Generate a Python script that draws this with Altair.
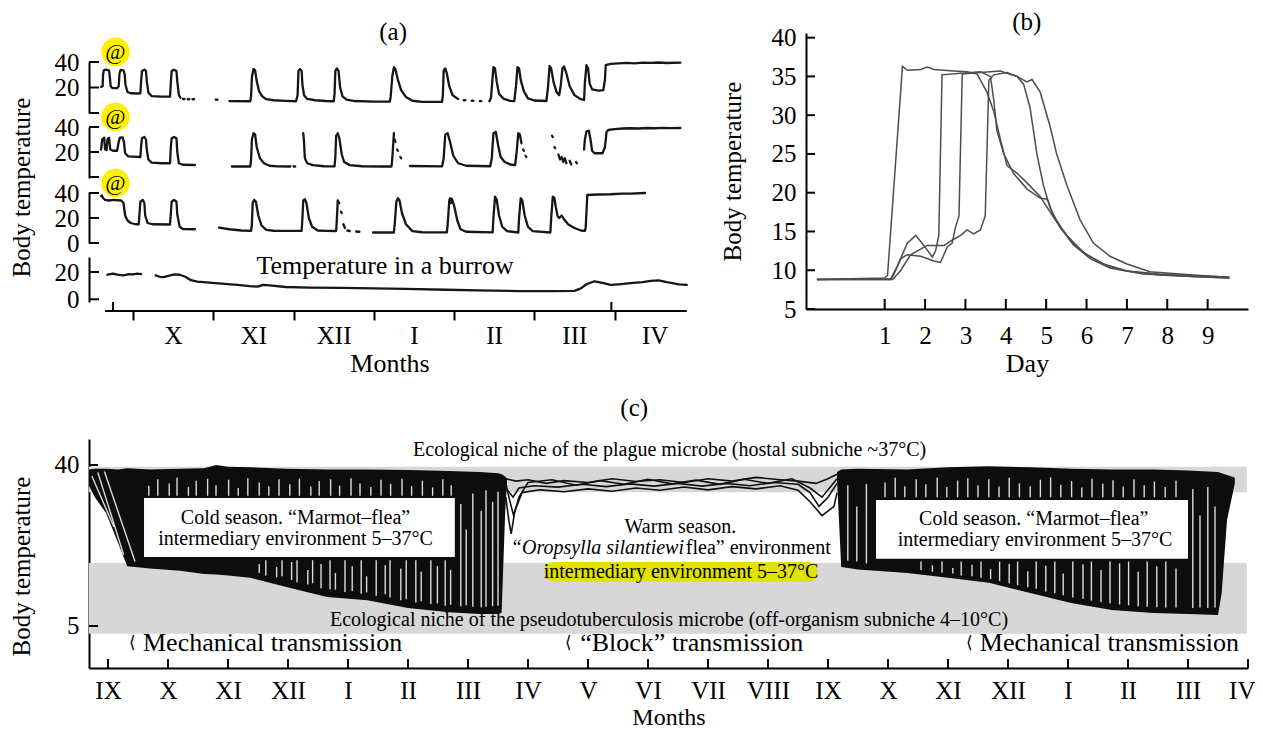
import json
import altair as alt
import pandas as pd

FONT = "Liberation Serif"
INK = "#161616"

# ===================== panel (a) data =====================
A_MONTHS = ["X", "XI", "XII", "I", "II", "III", "IV"]
A_MONTH_STARTS = [1, 2, 3, 4, 5, 6, 7]
A_SIDE_TICKS = [0.75, 6.96]
A_AXIS_SPAN = [0.651, 7.9]
A_XDOMAIN = [0.45, 7.94]

A1 = [
    [(0.60, 20.5), (0.62, 21), (0.625, 30), (0.635, 33.5), (0.66, 34), (0.70, 33.5), (0.71, 28), (0.72, 21),
     (0.74, 19.6), (0.80, 19.5), (0.82, 21), (0.83, 31), (0.845, 33.8), (0.88, 33.5), (0.895, 30), (0.905, 22),
     (0.93, 16.5), (0.97, 15.5), (1.05, 15.3), (1.09, 15.5), (1.10, 25), (1.11, 33), (1.14, 34), (1.16, 33),
     (1.17, 25), (1.19, 16), (1.23, 13.3), (1.35, 12.8), (1.46, 12.8), (1.47, 24), (1.48, 33), (1.51, 34),
     (1.54, 33), (1.55, 25), (1.57, 14), (1.59, 12)],
    [(1.62, 11), (1.64, 11)], [(1.68, 10.8), (1.70, 10.8)], [(1.74, 10.8), (1.76, 10.8)],
    [(2.03, 10.4), (2.05, 10.4)],
    [(2.20, 9.3), (2.46, 9.2), (2.47, 13), (2.48, 28), (2.50, 34.5), (2.52, 33.5), (2.54, 25), (2.57, 17),
     (2.61, 13), (2.66, 10.8), (2.75, 10), (2.90, 9.5), (3.03, 9.2), (3.05, 14), (3.06, 33), (3.08, 34.5),
     (3.10, 33), (3.11, 22), (3.13, 14), (3.17, 11), (3.27, 10), (3.40, 9.4), (3.50, 9.2), (3.51, 15),
     (3.52, 33), (3.54, 35), (3.56, 33), (3.58, 20), (3.61, 13), (3.66, 10.5), (3.76, 9.4), (4.00, 9),
     (4.20, 9), (4.21, 13), (4.23, 29), (4.25, 36), (4.27, 34), (4.30, 26), (4.34, 18), (4.40, 12.5),
     (4.48, 9.6), (4.60, 8.8), (4.85, 8.8), (4.86, 14), (4.87, 33), (4.89, 35), (4.91, 31), (4.94, 21),
     (4.98, 14), (5.05, 11)],
    [(5.12, 10), (5.14, 10)], [(5.22, 9.6), (5.24, 9.6)], [(5.32, 9.3), (5.34, 9.3)],
    [(5.44, 9.2), (5.46, 12), (5.47, 20), (5.49, 36), (5.51, 35), (5.53, 25), (5.56, 15), (5.62, 11),
     (5.70, 9.5), (5.75, 9.3), (5.77, 20), (5.79, 36), (5.81, 35), (5.83, 26), (5.87, 17), (5.92, 11.5),
     (6.00, 9.8), (6.15, 9.4), (6.17, 20), (6.19, 37), (6.21, 35), (6.24, 24), (6.28, 16), (6.31, 14),
     (6.33, 22), (6.35, 35), (6.37, 36.5), (6.40, 31), (6.44, 21), (6.50, 14), (6.58, 10.8), (6.62, 10.2),
     (6.63, 24), (6.65, 37.5), (6.67, 35), (6.69, 23), (6.72, 18.5), (6.80, 17.5), (6.86, 18), (6.88, 26),
     (6.89, 37.5), (6.95, 38.6), (7.05, 38.9), (7.15, 39.3), (7.25, 39.0), (7.35, 39.5), (7.45, 39.3),
     (7.55, 39.6), (7.65, 39.2), (7.82, 39.5)],
]

A2 = [
    [(0.60, 22), (0.615, 30), (0.64, 31.5), (0.65, 22), (0.67, 21.5), (0.68, 30), (0.70, 31.5), (0.715, 22),
     (0.75, 21), (0.80, 21), (0.82, 28), (0.835, 31.5), (0.87, 31.7), (0.885, 28), (0.90, 19), (0.94, 16.5),
     (1.00, 16.3), (1.09, 16), (1.10, 25), (1.11, 31), (1.14, 32), (1.16, 30), (1.17, 22), (1.19, 14),
     (1.23, 11.5), (1.35, 11), (1.46, 11), (1.47, 24), (1.48, 31), (1.51, 32), (1.54, 31), (1.55, 20),
     (1.57, 11), (1.62, 9.8), (1.77, 9.6)],
    [(2.23, 8.4), (2.46, 8.4), (2.47, 14), (2.48, 30), (2.50, 35), (2.52, 34), (2.54, 24), (2.58, 15),
     (2.63, 11), (2.70, 9), (2.80, 8.5), (2.96, 8.4)],
    [(3.00, 8.4), (3.02, 8.4)],
    [(3.12, 35), (3.13, 28), (3.14, 15), (3.17, 11), (3.24, 9.5), (3.38, 8.6), (3.51, 8.5), (3.52, 16),
     (3.53, 33), (3.55, 35), (3.57, 31), (3.60, 18), (3.63, 12), (3.70, 9.5), (3.85, 8.6), (4.10, 8.4),
     (4.22, 8.4), (4.23, 15), (4.25, 35)],
    [(4.26, 30), (4.27, 28)], [(4.29, 22), (4.30, 21)], [(4.33, 16), (4.34, 15)],
    [(4.45, 8.8), (4.85, 8.5), (4.87, 15), (4.89, 34), (4.92, 35), (4.95, 28), (4.99, 17), (5.05, 11),
     (5.15, 9), (5.45, 8.6), (5.47, 15), (5.49, 35), (5.52, 36), (5.55, 25), (5.58, 16), (5.63, 12),
     (5.70, 10), (5.76, 9.5), (5.78, 20), (5.80, 35), (5.82, 34), (5.84, 27)],
    [(5.86, 22), (5.87, 21)], [(5.89, 17), (5.90, 16)],
    [(6.22, 33), (6.23, 32)], [(6.25, 24), (6.26, 23)],
    [(6.30, 18), (6.32, 14), (6.34, 16), (6.36, 12), (6.38, 15), (6.40, 11)],
    [(6.44, 13), (6.46, 10)], [(6.52, 12), (6.53, 11)],
    [(6.62, 22), (6.63, 30), (6.65, 36.5), (6.68, 37), (6.70, 30), (6.72, 21), (6.75, 19), (6.85, 19),
     (6.88, 24), (6.90, 36), (6.92, 37.6), (7.00, 38.3), (7.10, 38.8), (7.20, 39), (7.30, 38.8), (7.40, 39.2),
     (7.50, 39), (7.60, 39.3), (7.70, 39.1), (7.82, 39.2)],
]

A3 = [
    [(0.60, 37.5), (0.61, 38), (0.625, 36), (0.65, 34.5), (0.70, 34), (0.75, 34.5), (0.85, 34), (0.88, 32),
     (0.90, 22), (0.93, 18), (0.97, 16), (1.03, 15), (1.07, 15), (1.08, 24), (1.09, 33), (1.12, 34.5),
     (1.14, 32), (1.15, 22), (1.18, 16), (1.24, 15), (1.46, 14.8), (1.47, 24), (1.48, 33), (1.51, 34.5),
     (1.54, 33), (1.55, 23), (1.58, 13), (1.62, 11.2), (1.77, 11)],
    [(2.07, 12.3), (2.20, 11), (2.35, 10), (2.47, 9.7), (2.48, 15), (2.49, 32), (2.51, 34.5), (2.53, 33),
     (2.56, 22), (2.60, 14), (2.66, 10.5), (2.75, 9.8), (3.00, 9.7), (3.10, 9.7), (3.11, 20), (3.12, 34),
     (3.14, 35), (3.16, 32), (3.19, 20), (3.23, 13), (3.30, 10), (3.40, 9.7), (3.53, 9.6), (3.54, 20),
     (3.55, 34)],
    [(3.56, 33), (3.57, 32)], [(3.59, 25), (3.60, 24)], [(3.62, 15), (3.64, 12)], [(3.67, 10), (3.70, 9.6)],
    [(3.78, 9.2), (3.82, 9.0)],
    [(3.99, 8.4), (4.25, 8.4), (4.26, 15), (4.28, 33), (4.30, 35.8), (4.32, 34), (4.35, 24), (4.40, 15),
     (4.48, 9.5), (4.60, 8.6), (4.91, 8.5), (4.92, 15), (4.94, 34), (4.95, 35.8), (4.96, 32), (4.97, 35.5),
     (5.00, 30), (5.04, 18), (5.08, 11), (5.15, 9), (5.48, 8.5), (5.49, 20), (5.51, 37), (5.53, 35),
     (5.56, 22), (5.60, 13), (5.66, 9.5), (5.80, 8.4), (5.81, 20), (5.83, 35.8), (5.85, 34), (5.88, 22),
     (5.92, 13), (5.98, 9.5), (6.20, 8.4), (6.21, 20), (6.23, 37), (6.25, 36), (6.27, 28), (6.29, 21.5),
     (6.31, 20), (6.34, 22), (6.37, 19), (6.42, 15), (6.50, 12), (6.58, 10), (6.63, 9.7), (6.64, 12),
     (6.65, 25), (6.66, 38.4), (6.80, 38.8), (6.95, 39), (7.10, 39.5), (7.20, 39.5), (7.38, 40)],
]

BURROW = [
    [(0.68, 18), (0.75, 18.8), (0.80, 18), (0.88, 17.5), (0.95, 18.5), (1.00, 18.3), (1.05, 18.8), (1.10, 18.5)],
    [(1.28, 17.5), (1.33, 16.5), (1.38, 16.2), (1.45, 17.3), (1.52, 18.2), (1.58, 18), (1.65, 16.5),
     (1.72, 14), (1.80, 13), (1.95, 12.2), (2.10, 11.5), (2.30, 10.5), (2.45, 9.6), (2.55, 9.3), (2.62, 10.5),
     (2.70, 10.2), (2.90, 9), (3.20, 8.6), (3.60, 8.3), (4.00, 8), (4.40, 7.6), (4.90, 7), (5.30, 6.5),
     (5.80, 6), (6.20, 6), (6.50, 6.2), (6.58, 8), (6.65, 11), (6.75, 13.2), (6.85, 12), (6.95, 10.5),
     (7.05, 11), (7.20, 11.8), (7.35, 12.5), (7.45, 13.5), (7.55, 13.8), (7.65, 12.5), (7.80, 11),
     (7.90, 10.5)],
]

AT_POS = (0.78, 48)

# ===================== panel (b) data =====================
B_XTICKS = [1, 2, 3, 4, 5, 6, 7, 8, 9]
B_YTICKS = [5, 10, 15, 20, 25, 30, 35, 40]
B_CURVES = {
    "c1": [(-0.68, 8.8), (1.0, 9.0), (1.07, 9.35), (1.44, 36.3), (1.56, 35.8), (1.89, 35.9), (2.05, 36.2),
           (2.22, 35.9), (2.71, 35.7), (3.04, 35.6), (3.29, 35.3), (3.53, 33), (3.70, 30.5), (3.86, 27),
           (4.03, 23.5), (4.28, 22.5), (4.52, 21.3), (4.85, 19.5), (5.10, 17.5), (5.35, 15.5), (5.67, 13.5),
           (6.00, 12), (6.50, 10.6), (7.00, 9.9), (7.80, 9.4), (8.60, 9.2), (9.54, 9.0)],
    "c2": [(-0.68, 8.8), (1.15, 8.9), (1.31, 10.5), (1.56, 13.5), (1.77, 14.5), (1.97, 13.2), (2.18, 11.7),
           (2.26, 12.5), (2.34, 14.5), (2.42, 35.2), (2.88, 35.4), (3.37, 35.6), (3.62, 35), (3.70, 32),
           (3.78, 28), (3.95, 25), (4.19, 22.5), (4.52, 20.5), (4.85, 19.3), (5.00, 19.2), (5.06, 18.8),
           (5.18, 17), (5.51, 14.5), (5.92, 12.3), (6.42, 10.8), (7.00, 9.9), (7.80, 9.5), (9.54, 9.1)],
    "c3": [(-0.68, 8.8), (1.15, 8.8), (1.23, 9.5), (1.40, 11.5), (1.56, 12), (1.89, 11.8), (2.22, 11.2),
           (2.38, 11), (2.55, 13), (2.67, 13.5), (2.75, 15.5), (2.84, 17), (2.92, 35.3), (3.37, 35.5),
           (3.86, 35.7), (4.28, 35), (4.44, 34), (4.60, 31), (4.77, 25), (4.93, 21), (5.10, 18), (5.35, 15.5),
           (5.67, 13.3), (6.09, 11.5), (6.58, 10.3), (7.40, 9.5), (8.64, 9.2), (9.54, 9.0)],
    "c4": [(-0.68, 8.8), (1.20, 8.8), (1.40, 10), (1.64, 12), (2.05, 13.2), (2.47, 13.2), (2.71, 14),
           (2.88, 14.5), (3.04, 15.2), (3.20, 14.7), (3.37, 15.2), (3.49, 17), (3.58, 34.5), (3.70, 35.2),
           (4.03, 35.5), (4.28, 35), (4.52, 34.3), (4.65, 34.6), (4.85, 33), (5.10, 28.5), (5.26, 25),
           (5.51, 21), (5.84, 16.5), (6.17, 13.5), (6.58, 11.8), (7.00, 10.8), (7.57, 9.8), (8.64, 9.4),
           (9.54, 9.1)],
}

# ===================== panel (c) data =====================
C_MONTHS = ["IX", "X", "XI", "XII", "I", "II", "III", "IV", "V", "VI", "VII", "VIII",
            "IX", "X", "XI", "XII", "I", "II", "III", "IV"]
C_YTICKS = [5, 40]
C_XDOMAIN = [-0.317, 19.0]
C_YDOMAIN = [-4.13, 45.65]
C_BANDS = {"lo": [3.3, 34.1], "hi": [18.7, 39.6]}
C_BAND_X = [-0.317, 18.98]

COLD1_X = [-0.317, -0.22, -0.03, 0.17, 0.32, 0.7, 1.2, 1.6, 1.8, 2.0, 2.37, 2.97, 3.65, 4.32, 5.0, 5.68,
           6.2, 6.5, 6.56, 6.62, 6.65]
COLD1_LO = [35.5, 33, 29.5, 23, 18, 17.5, 17, 16.3, 16.2, 16, 15.5, 13.5, 11.3, 10.6, 8.9, 8.0,
            7.6, 7.6, 7.8, 30, 36]
COLD1_HI = [39, 39.2, 39.2, 39, 39.3, 39, 39.2, 39.3, 40, 39.6, 39.5, 39.2, 39, 39, 38.9, 38.7,
            38.5, 38.2, 38, 37.5, 37]

COLD2_X = [12.15, 12.22, 12.5, 13.32, 14.0, 14.68, 15.37, 16.05, 16.73, 17.42, 18.0, 18.5, 18.56, 18.65, 18.78]
COLD2_LO = [37, 17.8, 17.3, 16.5, 15.5, 14.4, 12.2, 10, 8.5, 7.8, 7.6, 7.4, 12, 28, 36]
COLD2_HI = [38.5, 39, 39.2, 39, 39.5, 39.7, 39.5, 39.2, 39, 39, 38.8, 38.5, 38.2, 37.8, 37.3]

# white gaps left between the dense individual traces of the cold seasons: (x, from, to)
COLD_GAPS = [
    (2.52, 16.5, 18.5), (2.63, 16.0, 19.3), (2.81, 15.6, 17.8), (2.90, 15.8, 19.3), (3.06, 15.0, 18.9),
    (3.15, 14.5, 19.3), (3.33, 14.0, 17.2), (3.41, 14.3, 19.3), (3.55, 13.2, 18.5), (3.70, 13.0, 19.3),
    (3.79, 12.9, 16.5), (3.95, 12.4, 19.3), (4.07, 12.6, 18.0), (4.22, 12.0, 19.3), (4.31, 12.3, 15.8),
    (4.47, 11.6, 19.3), (4.62, 11.9, 18.2), (4.70, 11.2, 19.3), (4.88, 10.6, 17.5), (4.97, 10.8, 19.3),
    (5.13, 10.1, 19.3), (5.22, 10.4, 16.8), (5.38, 9.8, 19.3), (5.49, 9.9, 18.0), (5.62, 9.4, 19.3),
    (5.71, 9.6, 17.2), (5.88, 9.3, 31.5), (5.97, 9.5, 26), (6.08, 9.2, 33.8), (6.22, 9.1, 30),
    (6.30, 9.2, 34.5), (6.41, 9.3, 32), (6.50, 9.4, 34.2),
    (0.68, 33.3, 35.5), (0.83, 33.3, 36.9), (1.02, 33.3, 36.0), (1.15, 33.3, 37.2), (1.34, 33.3, 35.2),
    (1.47, 33.3, 36.6), (1.66, 33.3, 37.0), (1.80, 33.3, 35.6), (2.01, 33.3, 36.8), (2.17, 33.3, 35.0),
    (2.33, 33.3, 37.1), (2.52, 33.3, 36.2), (2.68, 33.3, 35.4), (2.85, 33.3, 36.9), (3.03, 33.3, 35.8),
    (3.19, 33.3, 37.0), (3.38, 33.3, 35.3), (3.52, 33.3, 36.5), (3.71, 33.3, 36.9), (3.86, 33.3, 35.5),
    (4.05, 33.3, 37.1), (4.20, 33.3, 36.0), (4.38, 33.3, 35.2), (4.55, 33.3, 36.8), (4.71, 33.3, 35.9),
    (4.90, 33.3, 37.0), (5.06, 33.3, 35.4), (5.24, 33.3, 36.6), (5.41, 33.3, 35.1), (5.58, 33.3, 36.9),
    (5.72, 33.3, 35.6),
    (12.33, 19.2, 35.6), (12.48, 19.0, 31), (12.64, 18.6, 35.9),
    (13.55, 17.2, 19.0), (13.74, 16.8, 18.2), (13.90, 16.6, 19.0), (14.08, 16.4, 17.6), (14.22, 16.0, 19.0),
    (14.40, 15.8, 18.3), (14.55, 15.5, 19.0), (14.71, 15.2, 17.4), (14.86, 14.8, 19.0), (15.02, 14.3, 18.5),
    (15.16, 13.9, 19.0), (15.33, 13.4, 16.9), (15.47, 13.1, 19.0), (15.63, 12.5, 18.1), (15.78, 12.1, 19.0),
    (15.92, 11.7, 16.4), (16.08, 11.2, 19.0), (16.25, 10.9, 18.4), (16.39, 10.5, 19.0), (16.55, 10.2, 17.2),
    (16.70, 9.9, 19.0), (16.86, 9.7, 18.6), (17.01, 9.5, 19.0), (17.17, 9.3, 16.8), (17.32, 9.2, 19.0),
    (17.48, 9.1, 18.0), (17.63, 9.0, 19.0), (17.80, 9.0, 17.5), (18.08, 8.9, 34.8), (18.20, 9.0, 29),
    (18.33, 8.9, 35.2), (18.45, 9.0, 31),
    (12.95, 33.0, 36.2), (13.12, 33.0, 37.2), (13.28, 33.0, 35.4), (13.47, 33.0, 36.9), (13.63, 33.0, 35.8),
    (13.82, 33.0, 37.3), (13.98, 33.0, 35.2), (14.16, 33.0, 36.6), (14.33, 33.0, 37.1), (14.50, 33.0, 35.6),
    (14.68, 33.0, 36.9), (14.85, 33.0, 35.3), (15.02, 33.0, 37.2), (15.19, 33.0, 36.0), (15.37, 33.0, 35.4),
    (15.54, 33.0, 36.8), (15.71, 33.0, 37.3), (15.88, 33.0, 35.7), (16.06, 33.0, 36.5), (16.23, 33.0, 35.1),
    (16.40, 33.0, 37.0), (16.58, 33.0, 35.9), (16.75, 33.0, 36.7), (16.92, 33.0, 35.3), (17.10, 33.0, 36.9),
    (17.27, 33.0, 35.6), (17.44, 33.0, 36.4), (17.62, 33.0, 35.2), (17.80, 33.0, 36.6),
]
# sloping traces at the start of the first cold season: (x, from, x2, to)
COLD_SLOPES = [(-0.27, 37.6, 0.10, 26.5), (-0.17, 38.4, 0.26, 20.5), (-0.06, 38.6, 0.45, 19.0)]

WARM = {
    "w1": [(6.63, 37), (6.8, 36.5), (7.0, 36.8), (7.3, 36), (7.6, 36.6), (8.0, 36.2), (8.4, 37), (8.8, 36.4),
           (9.2, 36.8), (9.6, 36.2), (10.0, 37), (10.4, 36.5), (10.8, 37.3), (11.2, 36.8), (11.5, 36.5),
           (11.8, 36), (12.0, 37), (12.15, 38)],
    "w2": [(6.63, 35), (6.75, 33), (6.85, 35), (7.1, 35.5), (7.5, 35.2), (7.9, 35.8), (8.3, 35.3), (8.7, 35.9),
           (9.1, 35.4), (9.5, 36), (9.9, 35.4), (10.3, 36), (10.7, 35.5), (11.1, 36.2), (11.5, 35.8),
           (11.7, 34), (11.85, 31), (12.0, 33), (12.15, 36)],
    "w3": [(6.63, 33), (6.68, 28), (6.72, 25), (6.78, 30), (6.9, 34), (7.2, 34.6), (7.6, 34.2), (8.0, 34.8),
           (8.4, 34.3), (8.8, 35), (9.2, 34.5), (9.6, 35.2), (10.0, 34.6), (10.4, 35.3), (10.8, 34.8),
           (11.2, 35.5), (11.5, 34.5), (11.7, 32), (11.9, 29), (12.1, 31), (12.15, 34)],
    "w4": [(6.63, 36), (6.7, 32), (6.76, 29), (6.85, 33), (7.0, 36.2), (7.4, 36.8), (7.8, 35.6), (8.2, 36.6),
           (8.6, 35.8), (9.0, 36.9), (9.4, 35.9), (9.8, 36.7), (10.2, 35.8), (10.6, 36.9), (11.0, 36),
           (11.4, 37), (11.7, 35), (11.9, 33), (12.15, 37)],
}

C_BOXES = {"x0": [0.6, 12.8], "x1": [5.78, 18.0], "lo": [20.0, 19.6], "hi": [32.8, 32.4]}
C_HILITE = {"x0": [7.28], "x1": [11.82], "lo": [14.6], "hi": [18.9]}

C_TEXT_CENTER = [
    (9.36, 43.26, "Ecological niche of the plague microbe (hostal subniche ~37°C)"),
    (9.35, 6.3, "Ecological niche of the pseudotuberculosis microbe (off-organism subniche 4–10°C)"),
    (3.125, 28.5, "Cold season. “Marmot–flea”"),
    (3.125, 23.9, "intermediary environment 5–37°C"),
    (15.43, 28.2, "Cold season. “Marmot–flea”"),
    (15.45, 23.6, "intermediary environment 5–37°C"),
    (9.54, 26.5, "Warm season."),
    (9.55, 16.7, "intermediary environment 5–37°C"),
]
C_TEXT_ITALIC = [(9.6, 22.0, "“Oropsylla silantiewi")]
C_TEXT_AFTER = [(9.63, 22.0, "flea” environment")]
C_TRANSMISSION = [(0.583, 1.4, "Mechanical transmission"),
                  (7.87, 1.4, "“Block” transmission"),
                  (14.53, 1.4, "Mechanical transmission")]
C_BRACKETS = [0.40, 7.68, 14.35]

# ===================== layout (page pixels) =====================
OX, OY = 8, 8
VIEW_W, VIEW_H = 1247, 722


def rx(a, b):
    return [a - OX, b - OX]


def ry(bottom, top):
    return [bottom - OY, top - OY]


PA = dict(xdom=A_XDOMAIN, xr=rx(89, 690))
SUB1 = dict(PA, ydom=[0, 40], yr=ry(113, 62))
SUB2 = dict(PA, ydom=[-0.8, 40], yr=ry(178, 127))
SUB3 = dict(PA, ydom=[0, 40.8], yr=ry(243, 192))
SUB4 = dict(PA, ydom=[-2, 31], yr=ry(302, 257))
SPACER = dict(PA, ydom=[0, 15], yr=ry(48, 33))
PB = dict(xdom=[-0.95, 10.0], xr=rx(806, 1248), ydom=[5, 40.6], yr=ry(309, 33))
PC = dict(xdom=C_XDOMAIN, xr=rx(89, 1248), ydom=C_YDOMAIN, yr=ry(668, 439))


def sx(p):
    return alt.Scale(domain=p["xdom"], range=p["xr"], nice=False, zero=False)


def sy(p):
    return alt.Scale(domain=p["ydom"], range=p["yr"], nice=False, zero=False)


def X(field, p, axis=None, title=""):
    return alt.X(f"{field}:Q", scale=sx(p), axis=axis, title=title)


def Y(field, p, axis=None, title=""):
    return alt.Y(f"{field}:Q", scale=sy(p), axis=axis, title=title)


AXIS_BASE = dict(ticks=False, tickSize=0, domainWidth=2, domainColor="black", labelFontSize=25,
                 labelFlush=False, labelOverlap=False, grid=False, labelFont=FONT, titleFont=FONT,
                 labelColor="black", titleColor="black", titleFontWeight="normal")


def seg_df(segments):
    rows = []
    for s, seg in enumerate(segments):
        for i, (x, t) in enumerate(seg):
            rows.append({"seg": s, "i": i, "x": x, "t": t})
    return pd.DataFrame(rows)


def text_layer(rows, p, size, align="center", style="normal"):
    df = pd.DataFrame(rows, columns=["x", "y", "s"])
    return alt.Chart(df).mark_text(fontSize=size, font=FONT, color="black", align=align,
                                   baseline="middle", fontStyle=style).encode(
        x=X("x", p), y=Y("y", p), text="s:N")


def ytick_layer(values, p, x0, x1):
    return alt.Chart(pd.DataFrame({"v": values})).mark_rule(color="black", strokeWidth=2).encode(
        x=alt.value(x0 - OX), x2=alt.value(x1 - OX), y=Y("v", p))


def xtick_layer(values, p, y0, y1):
    return alt.Chart(pd.DataFrame({"v": values})).mark_rule(color="black", strokeWidth=2).encode(
        y=alt.value(y0 - OY), y2=alt.value(y1 - OY), x=X("v", p))


layers = []

# ---------- panel (a) ----------
layers.append(text_layer([(4.24, 16, "(a)")], SPACER, 25))


def a_sub(segments, p, yvals, hide_zero, marker=True, ytitle=False, xaxis=False):
    yax = dict(AXIS_BASE, orient="left", offset=-(89 - OX), values=yvals, labelPadding=10,
               labelExpr="datum.value == 0 ? '' : datum.label" if hide_zero else "datum.label")
    ytxt = ""
    if ytitle:
        ytxt = "Body temperature"
        yax.update(titleFontSize=25, titleAngle=270, titleBaseline="bottom", titleAlign="center",
                   titleX=-55, titleY=187 - OY)
    if xaxis:
        xax = alt.Axis(**dict(AXIS_BASE, orient="bottom", offset=(311 - OY) - VIEW_H, values=A_MONTH_STARTS,
                              labelExpr=json.dumps(A_MONTHS).replace('"', "'") + "[datum.value - 1]",
                              labelOffset=40, ticks=True, tickSize=9, tickWidth=2, tickColor="black",
                              domain=False, labelPadding=3, titleFontSize=26, titlePadding=2))
        xenc = X("x", p, axis=xax, title="Months")
    else:
        xenc = X("x", p)
    out = [
        alt.Chart(seg_df(segments)).mark_line(color=INK, strokeWidth=2.3, strokeCap="round",
                                               strokeJoin="round").encode(
            x=xenc, y=Y("t", p, axis=alt.Axis(**yax), title=ytxt), detail="seg:N", order="i:Q"),
        ytick_layer(yvals, p, 89, 99),
    ]
    if marker:
        mdf = pd.DataFrame({"x": [AT_POS[0]], "y": [AT_POS[1]], "s": ["@"]})
        out.append(alt.Chart(mdf).mark_point(shape="circle", filled=True, size=820, color="#FFF200",
                                             opacity=1).encode(x=X("x", p), y=Y("y", p)))
        out.append(alt.Chart(mdf).mark_text(fontSize=22, font=FONT, color="black").encode(
            x=X("x", p), y=Y("y", p), text="s:N"))
    return out


layers += a_sub(A1, SUB1, [0, 20, 40], True)
layers += a_sub(A2, SUB2, [0, 20, 40], True, ytitle=True)
layers += a_sub(A3, SUB3, [0, 20, 40], False)
layers += a_sub(BURROW, SUB4, [0, 20], False, marker=False, xaxis=True)
layers.append(alt.Chart(pd.DataFrame({"x": [A_AXIS_SPAN[0]], "x2": [A_AXIS_SPAN[1]], "y": [-8.6]}))
              .mark_rule(color="black", strokeWidth=2).encode(x=X("x", SUB4), x2="x2:Q", y=Y("y", SUB4)))
layers.append(alt.Chart(pd.DataFrame({"x": A_SIDE_TICKS, "y": [-8.6] * 2, "y2": [-2.0] * 2}))
              .mark_rule(color="black", strokeWidth=2).encode(x=X("x", SUB4), y=Y("y", SUB4), y2="y2:Q"))
layers.append(text_layer([(4.14, 24.4, "Temperature in a burrow")], SUB4, 26))

# ---------- panel (b) ----------
b_rows = []
for name, pts in B_CURVES.items():
    for i, (d, t) in enumerate(pts):
        b_rows.append({"curve": name, "i": i, "d": d, "t": t})
b_xax = alt.Axis(**dict(AXIS_BASE, orient="bottom", offset=(309 - OY) - VIEW_H, values=B_XTICKS,
                        labelPadding=14, titleFontSize=26, titlePadding=2))
b_yax = alt.Axis(**dict(AXIS_BASE, orient="left", offset=-(806 - OX), values=B_YTICKS, labelPadding=10,
                        titleFontSize=25, titleAngle=270, titleBaseline="bottom", titleAlign="center",
                        titleX=-61, titleY=171 - OY))
layers.append(alt.Chart(pd.DataFrame(b_rows)).mark_line(color="#4d4d4d", strokeWidth=1.5).encode(
    x=X("d", PB, axis=b_xax, title="Day"), y=Y("t", PB, axis=b_yax, title="Body temperature"),
    detail="curve:N", order="i:Q"))
layers.append(xtick_layer(B_XTICKS, PB, 309, 299))
layers.append(ytick_layer(B_YTICKS, PB, 806, 815))
layers.append(text_layer([(4.52, 42.05, "(b)")], PB, 25))

# ---------- panel (c) ----------
c_xax = alt.Axis(**dict(AXIS_BASE, orient="bottom", offset=(668 - OY) - VIEW_H,
                        values=list(range(len(C_MONTHS))),
                        labelExpr=json.dumps(C_MONTHS).replace('"', "'") + "[datum.value]",
                        labelPadding=10, labelFlush=True, labelFlushOffset=7,
                        titleFontSize=24, titleBaseline="alphabetic", titleY=56))
c_yax = alt.Axis(**dict(AXIS_BASE, orient="left", offset=-(89 - OX), values=C_YTICKS, labelPadding=10,
                        titleFontSize=25, titleAngle=270, titleBaseline="bottom", titleAlign="center",
                        titleX=-55, titleY=566 - OY))
band_df = pd.DataFrame({"x0": [C_BAND_X[0]] * 2, "x1": [C_BAND_X[1]] * 2,
                        "lo": C_BANDS["lo"], "hi": C_BANDS["hi"]})
layers.append(alt.Chart(band_df).mark_rect(color="#d7d7d7").encode(
    x=X("x0", PC, axis=c_xax, title="Months"), x2="x1:Q",
    y=Y("lo", PC, axis=c_yax, title="Body temperature"), y2="hi:Q"))

for xs_, lo, hi in [(COLD1_X, COLD1_LO, COLD1_HI), (COLD2_X, COLD2_LO, COLD2_HI)]:
    layers.append(alt.Chart(pd.DataFrame({"x": xs_, "lo": lo, "hi": hi})).mark_area(
        color="#0d0d0d", interpolate="linear").encode(x=X("x", PC), y=Y("lo", PC), y2="hi:Q"))

layers.append(alt.Chart(pd.DataFrame(COLD_GAPS, columns=["x", "lo", "hi"])).mark_rule(
    color="white", strokeWidth=1.4, opacity=0.85).encode(x=X("x", PC), y=Y("lo", PC), y2="hi:Q"))
layers.append(alt.Chart(pd.DataFrame(COLD_SLOPES, columns=["x", "y", "x2", "y2"])).mark_rule(
    color="white", strokeWidth=1.4, opacity=0.85).encode(x=X("x", PC), x2="x2:Q", y=Y("y", PC), y2="y2:Q"))

w_rows = []
for name, pts in WARM.items():
    for i, (x, t) in enumerate(pts):
        w_rows.append({"w": name, "i": i, "x": x, "t": t})
layers.append(alt.Chart(pd.DataFrame(w_rows)).mark_line(color="#111111", strokeWidth=1.6).encode(
    x=X("x", PC), y=Y("t", PC), detail="w:N", order="i:Q"))

layers.append(alt.Chart(pd.DataFrame(C_BOXES)).mark_rect(color="white").encode(
    x=X("x0", PC), x2="x1:Q", y=Y("lo", PC), y2="hi:Q"))
layers.append(alt.Chart(pd.DataFrame(C_HILITE)).mark_rect(color="#E2E200", cornerRadius=9).encode(
    x=X("x0", PC), x2="x1:Q", y=Y("lo", PC), y2="hi:Q"))

layers.append(text_layer(C_TEXT_CENTER, PC, 20))
layers.append(text_layer(C_TEXT_ITALIC, PC, 20, align="right", style="italic"))
layers.append(text_layer(C_TEXT_AFTER, PC, 20, align="left"))
layers.append(text_layer(C_TRANSMISSION, PC, 26, align="left"))
layers.append(text_layer([(b, 1.2, "⟨") for b in C_BRACKETS], PC, 17))
layers.append(text_layer([(8.77, 52.4, "(c)")], PC, 25))
layers.append(xtick_layer(list(range(len(C_MONTHS))), PC, 668, 659))
layers.append(ytick_layer(C_YTICKS, PC, 89, 98))

chart = alt.layer(*layers).resolve_scale(x="independent", y="independent").resolve_axis(
    x="independent", y="independent").properties(
    width=VIEW_W, height=VIEW_H, autosize=alt.AutoSizeParams(type="none"),
    padding={"left": 0, "top": 0, "right": 0, "bottom": 0}
).configure_view(stroke=None)

chart.save("out.html", embed_options={"renderer": "svg", "actions": False})
